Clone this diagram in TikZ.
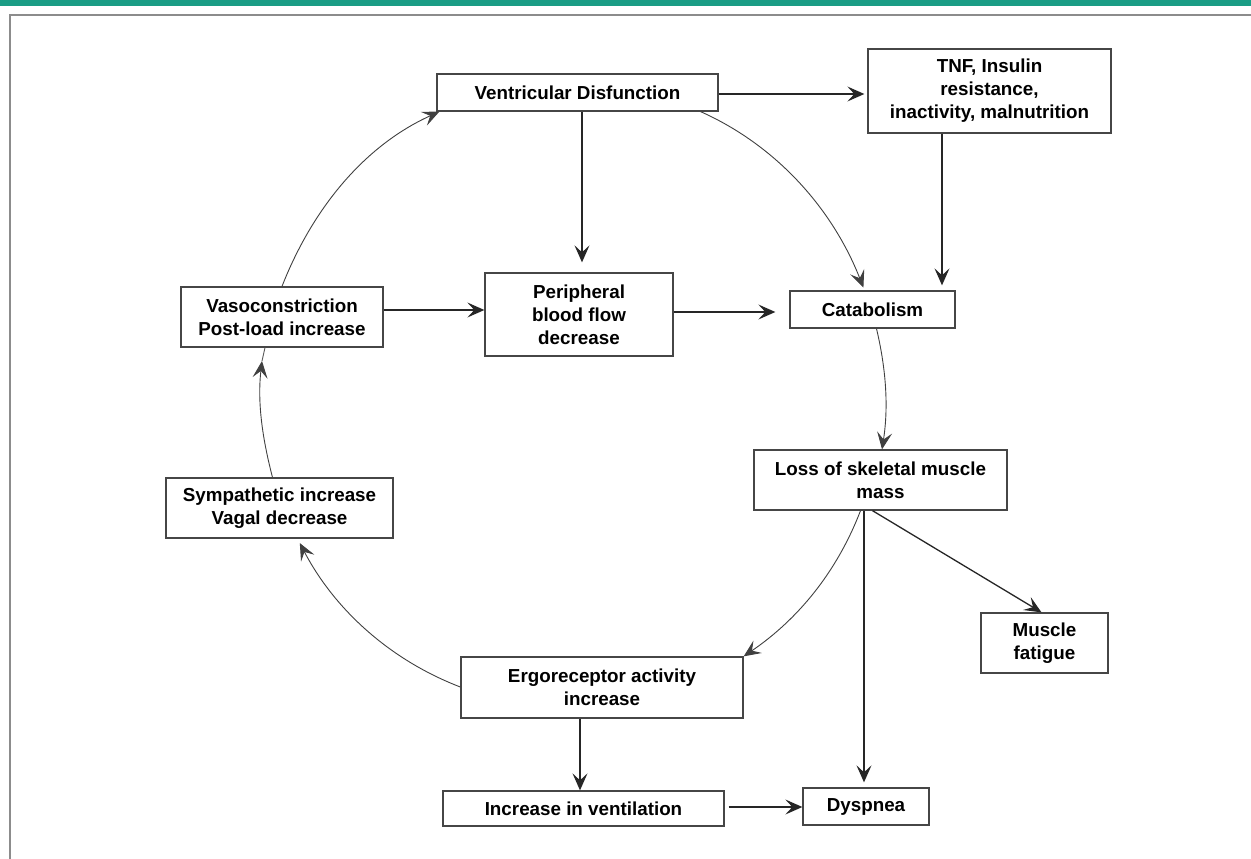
\documentclass[tikz,border=0pt]{standalone}
\usepackage{fontspec}
\setmainfont{Liberation Sans}
\usetikzlibrary{arrows.meta}
\definecolor{teal1}{RGB}{26,157,133}
\definecolor{framegray}{RGB}{140,140,140}
\definecolor{boxgray}{RGB}{70,70,70}
\tikzset{
  box/.style={draw=boxgray, line width=1.3pt, inner sep=0pt, align=center,
    font=\fontsize{18.8}{23}\selectfont\bfseries, fill=white},
  tip/.style={-{Stealth[length=17pt,width=15pt,inset=7pt]}},
  arr/.style={draw=black!85, line width=1.3pt, tip},
  carr/.style={draw=black!75, line width=0.9pt, tip},
  cline/.style={draw=black!65, line width=0.9pt}
}
\begin{document}
\begin{tikzpicture}[x=1pt,y=1pt]
\useasboundingbox (0,0) rectangle (1251,-859);
\fill[teal1] (0,0) rectangle (1251,-6.5);
\draw[framegray, line width=2pt] (10,-859) -- (10,-15) -- (1251,-15);

% nodes
\node[box, minimum width=281pt, minimum height=37pt] (vd) at (577.5,-92.5) {Ventricular Disfunction};
\node[box, minimum width=243pt, minimum height=84pt] (tnf) at (989.5,-91) {TNF, Insulin\\resistance,\\inactivity, malnutrition};
\node[box, minimum width=202pt, minimum height=60pt] (vaso) at (282,-317) {Vasoconstriction\\Post-load increase};
\node[box, minimum width=188pt, minimum height=83pt] (peri) at (579,-314.5) {Peripheral\\blood flow\\decrease};
\node[box, minimum width=165pt, minimum height=37pt] (cata) at (872.5,-309.5) {Catabolism};
\node[box, minimum width=253pt, minimum height=60pt] (loss) at (880.5,-480) {Loss of skeletal muscle\\mass};
\node[box, minimum width=227pt, minimum height=60pt] (symp) at (279.5,-508) {Sympathetic increase\\Vagal decrease};
\node[box, minimum width=282pt, minimum height=61pt] (ergo) at (602,-687.5) {Ergoreceptor activity\\increase};
\node[box, minimum width=281pt, minimum height=35pt] (vent) at (583.5,-808.5) {Increase in ventilation};
\node[box, minimum width=127pt, minimum height=60pt] (fat) at (1044.5,-643) {Muscle\\fatigue};
\node[box, minimum width=126pt, minimum height=37pt] (dysp) at (866,-806.5) {Dyspnea};
\coordinate (mid) at (262,-361);

% straight arrows
\draw[arr, shorten >=3pt] ([yshift=-1.5pt]vd.east) -- ([yshift=-1.5pt]vd.east -| tnf.west);
\draw[arr, shorten >=10pt] ([xshift=4.5pt]vd.south) -- ([xshift=4.5pt]vd.south |- peri.north);
\draw[arr, shorten >=5pt] ([xshift=-47.5pt]tnf.south) -- ([xshift=-47.5pt]tnf.south |- cata.north);
\draw[arr] ([yshift=7pt]vaso.east) -- ([yshift=7pt]vaso.east -| peri.west);
\draw[arr, shorten >=14pt] ([yshift=2.5pt]peri.east) -- ([yshift=2.5pt]peri.east -| cata.west);
\draw[arr, shorten >=5pt] ([xshift=-2pt]dysp.north |- loss.south) -- ([xshift=-2pt]dysp.north);
\draw[arr] ([xshift=-8pt]loss.south) -- ([xshift=-3pt]fat.north);
\draw[arr] ([xshift=-22pt]ergo.south) -- ([xshift=-22pt]ergo.south |- vent.north);
\draw[arr, shorten <=4pt] ([yshift=1.5pt]vent.east) -- ([yshift=1.5pt]vent.east -| dysp.west);

% circular arrows
\draw[carr] (vaso.north) to[out=68.6, in=204.4, looseness=0.9] ([xshift=3pt]vd.south west);
\draw[carr, shorten >=3pt] ([xshift=-18pt]vd.south east) to[out=-24.1, in=111.4, looseness=0.9] ([xshift=-8pt]cata.north);
\draw[carr] ([xshift=4pt]cata.south) to[out=-76.7, in=81.2, looseness=0.9] ([xshift=1.5pt]loss.north);
\draw[carr] ([xshift=-20pt]loss.south) to[out=-111, in=34.3, looseness=0.9] (ergo.north east);
\draw[carr, shorten >=5pt] ([yshift=0.5pt]ergo.west) to[out=159, in=297.6, looseness=0.9] ([xshift=18pt]symp.south);
\draw[carr] ([xshift=-7pt]symp.north) to[out=104.6, in=263.5, looseness=0.9] (mid);
\draw[cline] (mid) -- ([xshift=-17pt]vaso.south);
\end{tikzpicture}
\end{document}
